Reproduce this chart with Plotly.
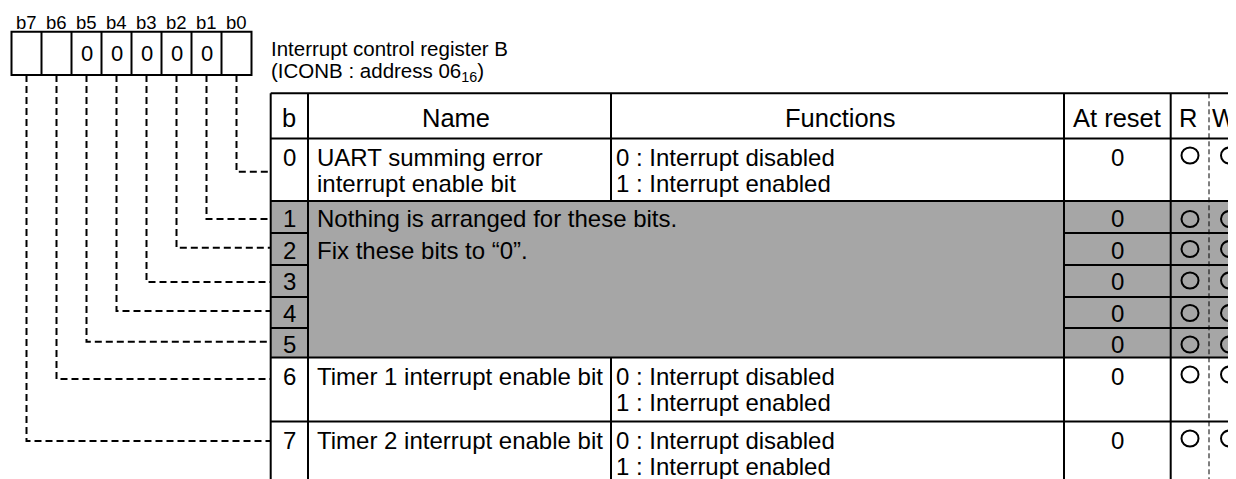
import plotly.graph_objects as go

# ---------------- data ----------------
register_bits = ["b7", "b6", "b5", "b4", "b3", "b2", "b1", "b0"]
register_fixed = ["", "", "0", "0", "0", "0", "0", ""]
title_lines = ["Interrupt control register B", "(ICONB : address 06<sub>16</sub>)"]
header_labels = ["b", "Name", "Functions", "At reset", "R", "W"]
bit_numbers = ["0", "1", "2", "3", "4", "5", "6", "7"]
name_line1 = ["UART summing error", "", "", "", "", "", "Timer 1 interrupt enable bit", "Timer 2 interrupt enable bit"]
name_line2 = ["interrupt enable bit", "", "", "", "", "", "", ""]
func_line1 = ["0 : Interrupt disabled", "", "", "", "", "", "0 : Interrupt disabled", "0 : Interrupt disabled"]
func_line2 = ["1 : Interrupt enabled", "", "", "", "", "", "1 : Interrupt enabled", "1 : Interrupt enabled"]
reserved_bits = [1, 2, 3, 4, 5]
reserved_note = ["Nothing is arranged for these bits.", "Fix these bits to \u201c0\u201d."]
reset_values = ["0", "0", "0", "0", "0", "0", "0", "0"]
readable = [True] * 8
writable = [True] * 8

# ---------------- geometry / style ----------------
W, H = 1236, 479
PAGE_OFF = 8  # default body margin of the html page
FONT = "Liberation Sans, Arial, Helvetica, sans-serif"
BLACK = "#000000"
GRAY = "#a6a6a6"
BODY = 24
reg_left, reg_top, reg_bottom, cell_w = 11.5, 31.7, 75.0, 30.0
col_x = [270.7, 308.0, 611.0, 1064.0, 1170.7, 1209.0]
tbl_top, header_bottom = 93.3, 138.5
row_top = [138.5, 201.0, 233.0, 265.0, 297.0, 328.0, 357.5, 421.5]
row_bottom = row_top[1:] + [H + 20]
text_dy = [18.5, 17.5, 17.0, 16.0, 16.0, 16.0, 18.5, 18.5]
line_gap = 26.0
conn_y = [171.7, 219.0, 247.7, 282.0, 311.0, 341.7, 379.0, 441.0]
circle_y_dy = [-1.5, 0.5, -1.0, -0.5, 0.0, 0.5, -1.5, -1.5]

fig = go.Figure()
shapes = []
annotations = []
RIGHT = W + 20
BOTTOM = H + 20


def line(x0, y0, x1, y1, width=2, dash=None, color=BLACK):
    d = dict(type="line", xref="x", yref="y", x0=x0, y0=y0, x1=x1, y1=y1,
             line=dict(color=color, width=width), layer="above")
    if dash:
        d["line"]["dash"] = dash
    shapes.append(d)


def text(x, y, s, size, anchor="center", color=BLACK):
    annotations.append(dict(x=x, y=y, xref="x", yref="y", text=s, showarrow=False,
                            xanchor=anchor, yanchor="middle", borderpad=0, borderwidth=0,
                            font=dict(family=FONT, size=size, color=color)))


# ---- register box ----
for i, lab in enumerate(register_bits):
    cx = reg_left + cell_w * i + cell_w / 2
    text(cx, 22.5, lab, 18.5)
    if register_fixed[i]:
        text(cx, 53.5, register_fixed[i], 22)
shapes.append(dict(type="rect", xref="x", yref="y", x0=reg_left, x1=reg_left + 8 * cell_w,
                   y0=reg_top, y1=reg_bottom, line=dict(color=BLACK, width=2), layer="above"))
for i in range(1, 8):
    x = reg_left + cell_w * i
    line(x, reg_top, x, reg_bottom)

# ---- title ----
text(col_x[0], 48.5, title_lines[0], 20.5, anchor="left")
text(col_x[0], 71.5, title_lines[1], 20.5, anchor="left")

# ---- grey reserved block ----
g_top = row_top[reserved_bits[0]]
g_bot = row_bottom[reserved_bits[-1]]
shapes.append(dict(type="rect", xref="x", yref="y", x0=col_x[0], x1=RIGHT, y0=g_top, y1=g_bot,
                   fillcolor=GRAY, line=dict(width=0), layer="below"))

# ---- table grid ----
line(col_x[0], tbl_top, RIGHT, tbl_top)
line(col_x[0], header_bottom, RIGHT, header_bottom)
for b in range(8):
    if b in reserved_bits:
        y = row_bottom[b]
        if b == reserved_bits[-1]:
            line(col_x[0], y, RIGHT, y)
        else:
            line(col_x[0], y, col_x[1], y)
            line(col_x[3], y, RIGHT, y)
    elif b < 7:
        line(col_x[0], row_bottom[b], RIGHT, row_bottom[b])
for x in [col_x[0], col_x[1], col_x[3], col_x[4]]:
    line(x, tbl_top, x, BOTTOM)
# Name / Functions divider broken by grey block
line(col_x[2], tbl_top, col_x[2], g_top)
line(col_x[2], g_bot, col_x[2], BOTTOM)
# R / W dashed divider
line(col_x[5], tbl_top, col_x[5], BOTTOM, width=1, dash="5px,3px")

# ---- header ----
header_cx = [(col_x[0] + col_x[1]) / 2, (col_x[1] + col_x[2]) / 2 - 4, (col_x[2] + col_x[3]) / 2 + 3,
             (col_x[3] + col_x[4]) / 2, (col_x[4] + col_x[5]) / 2 - 2]
for lab, cx in zip(header_labels[:5], header_cx):
    text(cx, 117.5, lab, 25.5)
text(col_x[5] + 2.5, 117.5, header_labels[5], 25.5, anchor="left")

# ---- rows ----
for b in range(8):
    y1 = row_top[b] + text_dy[b]
    text((col_x[0] + col_x[1]) / 2, y1, bit_numbers[b], BODY)
    if name_line1[b]:
        text(col_x[1] + 9, y1, name_line1[b], BODY, anchor="left")
    if name_line2[b]:
        text(col_x[1] + 9, y1 + line_gap, name_line2[b], BODY, anchor="left")
    if func_line1[b]:
        text(col_x[2] + 5, y1, func_line1[b], BODY, anchor="left")
    if func_line2[b]:
        text(col_x[2] + 5, y1 + line_gap, func_line2[b], BODY, anchor="left")
    text((col_x[3] + col_x[4]) / 2, y1, reset_values[b], BODY)
    cy = y1 + circle_y_dy[b]
    if readable[b]:
        cx = 1190.0
        shapes.append(dict(type="circle", xref="x", yref="y", x0=cx - 8.5, x1=cx + 8.5, y0=cy - 8, y1=cy + 8,
                           line=dict(color=BLACK, width=2), layer="above"))
    if writable[b]:
        cx = 1229.5
        shapes.append(dict(type="circle", xref="x", yref="y", x0=cx - 8.5, x1=cx + 8.5, y0=cy - 8, y1=cy + 8,
                           line=dict(color=BLACK, width=2), layer="above"))

# reserved note
r0 = reserved_bits[0]
text(col_x[1] + 9, row_top[r0] + text_dy[r0], reserved_note[0], BODY, anchor="left")
text(col_x[1] + 9, row_top[r0 + 1] + text_dy[r0 + 1], reserved_note[1], BODY, anchor="left")

# ---- dashed connectors from register cells to table rows ----
for b in range(8):
    cx = reg_left + cell_w * (7 - b) + cell_w / 2
    path = "M {:.1f},{:.1f} V {:.1f} H {:.1f}".format(cx, reg_bottom, conn_y[b], col_x[0])
    shapes.append(dict(type="path", xref="x", yref="y", path=path,
                       line=dict(color=BLACK, width=2, dash="7px,4px"), layer="above"))

# the axes are offset by the page margin so that data units equal window pixels
fig.update_layout(
    width=W, height=H, autosize=False,
    margin=dict(l=0, r=0, t=0, b=0, pad=0),
    paper_bgcolor="white", plot_bgcolor="white",
    xaxis=dict(range=[PAGE_OFF, W + PAGE_OFF], visible=False, fixedrange=True),
    yaxis=dict(range=[H + PAGE_OFF, PAGE_OFF], visible=False, fixedrange=True),
    shapes=shapes, annotations=annotations, showlegend=False,
)
fig.write_html("out.html")
